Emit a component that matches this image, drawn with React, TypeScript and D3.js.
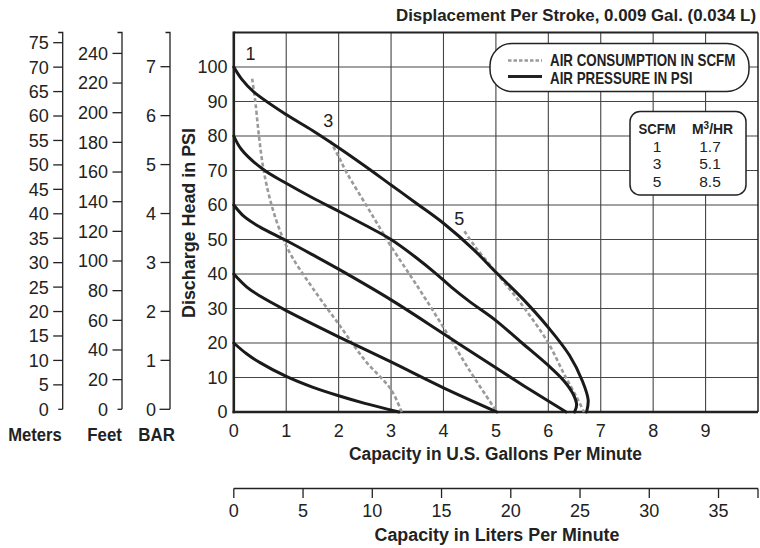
import React from "react";
import * as d3 from "d3";

// ---------- data ----------
const gpmTicks = [0, 1, 2, 3, 4, 5, 6, 7, 8, 9];
const psiTicks = [0, 10, 20, 30, 40, 50, 60, 70, 80, 90, 100];
const literTicks = [0, 5, 10, 15, 20, 25, 30, 35];
const meterTicks = [0, 5, 10, 15, 20, 25, 30, 35, 40, 45, 50, 55, 60, 65, 70, 75];
const feetTicks = [0, 20, 40, 60, 80, 100, 120, 140, 160, 180, 200, 220, 240];
const barTicks = [0, 1, 2, 3, 4, 5, 6, 7];

// air pressure curves [gpm, psi]
const psi100: [number, number][] = [[0, 100], [0.15, 96.5], [0.38, 92.8], [1, 86.2], [1.5, 81.6], [2, 76.6], [2.5, 71.3], [3, 65.8], [3.5, 60.3], [4, 54.7], [4.58, 47], [5, 40.5], [5.5, 33], [6, 24.5], [6.4, 16.5], [6.65, 9], [6.76, 3.5], [6.73, 0]];
const psi80: [number, number][] = [[0, 80], [0.15, 76], [0.57, 70.2], [1, 66.3], [1.5, 62.1], [2, 58.2], [2.5, 54.2], [3, 50], [3.5, 44.5], [3.85, 40.2], [4.15, 36.2], [4.5, 32], [5, 26.5], [5.5, 20], [6, 13.5], [6.3, 9], [6.48, 5], [6.54, 2], [6.5, 0]];
const psi60: [number, number][] = [[0, 60], [0.2, 56.6], [0.5, 53.6], [1, 49.7], [1.5, 45.6], [2, 41.4], [3, 32.5], [4, 22.7], [5, 12.8], [5.7, 6], [6.34, 0]];
const psi40: [number, number][] = [[0, 40], [0.25, 36.2], [0.5, 33.6], [1, 29.4], [2, 21.8], [3, 14.5], [4, 7], [5.02, 0]];
const psi20: [number, number][] = [[0, 20], [0.25, 16.8], [0.5, 14.3], [1, 10.3], [1.5, 7.2], [2, 4.7], [2.5, 2.5], [3.15, 0]];
const pressureCurves = [psi100, psi80, psi60, psi40, psi20];

// air consumption curves [gpm, psi]
const scfm1: [number, number][] = [[0.35, 96.6], [0.41, 90], [0.48, 80], [0.57, 70], [0.72, 60], [0.92, 51], [1.11, 45], [1.5, 36], [2, 25.5], [2.5, 15], [3, 6.5], [3.2, 0]];
const scfm3: [number, number][] = [[1.84, 78.6], [2, 74], [2.16, 69.2], [2.54, 59.6], [2.8, 53], [3, 48], [3.5, 36.5], [4, 24.5], [4.5, 12], [5.02, 0]];
const scfm5: [number, number][] = [[4.4, 52.4], [4.6, 48], [5, 40.5], [5.5, 31], [6, 20], [6.3, 11], [6.55, 4], [6.68, 0]];
const consumptionCurves = [scfm1, scfm3, scfm5];
const consumptionLabels = [{ t: "1", at: [0.32, 104] }, { t: "3", at: [1.8, 84.6] }, { t: "5", at: [4.3, 56] }];

const tableRows = [["1", "1.7"], ["3", "5.1"], ["5", "8.5"]];

const FONT = "'Liberation Sans', Arial, Helvetica, sans-serif";
const TICK_FS = 18;

export default function App() {
  const x = d3.scaleLinear().domain([0, 10]).range([233.8, 758]);
  const y = d3.scaleLinear().domain([0, 110]).range([412, 32.5]);
  const xl = d3.scaleLinear().domain([0, 10 * 3.785]).range([233.8, 758]);
  const yM = d3.scaleLinear().domain([0, 75]).range([409.3, 42.7]);
  const yF = d3.scaleLinear().domain([0, 240]).range([409.3, 53.4]);
  const yB = d3.scaleLinear().domain([0, 7]).range([409.3, 66.7]);

  const line = d3
    .line<[number, number]>()
    .x((d) => x(d[0]))
    .y((d) => y(d[1]))
    .curve(d3.curveCatmullRom.alpha(0.5));

  const sideAxis = (scale: d3.ScaleLinear<number, number>, ticks: number[], ax: number, zeroLen: number) => (
    <g>
      <path d={`M${ax - 4.5},32.5 H${ax} V${scale(0)}`} fill="none" stroke="#222" strokeWidth={1.3} />
      {ticks.map((t) => (
        <g key={t}>
          <line x1={ax - (t === 0 ? zeroLen : 9.5)} x2={ax} y1={scale(t)} y2={scale(t)} stroke="#222" strokeWidth={1.3} />
          <text x={ax - 14} y={scale(t) + 6.4} textAnchor="end" fontSize={TICK_FS} fill="#222">{t}</text>
        </g>
      ))}
    </g>
  );

  return (
    <svg width={760} height={548} style={{ position: "absolute", left: 0, top: 0, fontFamily: FONT }}>
      <rect width={760} height={548} fill="#fff" />
      {/* title */}
      <text x={396} y={20.5} fontSize={17} fontWeight="bold" fill="#222" textLength={360} lengthAdjust="spacingAndGlyphs">
        Displacement Per Stroke, 0.009 Gal. (0.034 L)
      </text>

      {/* grid */}
      {d3.range(1, 10).map((g) => (
        <line key={"v" + g} x1={x(g)} x2={x(g)} y1={y(110)} y2={y(0)} stroke="#444" strokeWidth={1.1} />
      ))}
      {d3.range(10, 110, 10).map((p) => (
        <line key={"h" + p} x1={x(0)} x2={x(10)} y1={y(p)} y2={y(p)} stroke="#444" strokeWidth={1.1} />
      ))}
      {/* frame */}
      <line x1={x(0)} x2={x(10)} y1={y(110)} y2={y(110)} stroke="#222" strokeWidth={2} />
      <line x1={x(10)} x2={x(10)} y1={y(110)} y2={y(0)} stroke="#222" strokeWidth={1.5} />
      <line x1={x(0)} x2={x(0)} y1={y(110) - 1} y2={y(0) + 1.2} stroke="#222" strokeWidth={2.6} />
      <line x1={x(0) - 1.3} x2={x(10)} y1={y(0)} y2={y(0)} stroke="#222" strokeWidth={2.6} />

      {/* legend */}
      <rect x={490} y={43.5} width={259} height={48} rx={22} fill="#fff" stroke="#222" strokeWidth={1.5} />
      <line x1={508} x2={542} y1={60.5} y2={60.5} stroke="#9a9a9a" strokeWidth={2.5} strokeDasharray="3.5,2" />
      <line x1={508} x2={542} y1={76.5} y2={76.5} stroke="#222" strokeWidth={3} />
      <text transform="translate(550,65.5) scale(0.835,1)" fontSize={16} fontWeight="bold" fill="#222">AIR CONSUMPTION IN SCFM</text>
      <text transform="translate(550,84) scale(0.835,1)" fontSize={16} fontWeight="bold" fill="#222">AIR PRESSURE IN PSI</text>

      {/* table */}
      <rect x={630} y={111.5} width={116} height={83.5} rx={10} fill="#fff" stroke="#222" strokeWidth={1.5} />
      <text transform="translate(638.5,133.5) scale(0.85,1)" fontSize={15.5} fontWeight="bold" fill="#222">SCFM</text>
      <text transform="translate(692,133.5) scale(0.9,1)" fontSize={15.5} fontWeight="bold" fill="#222">
        <tspan>M</tspan>
        <tspan dy={-5} fontSize={11}>3</tspan>
        <tspan dy={5}>/HR</tspan>
      </text>
      {tableRows.map((r, i) => (
        <g key={r[0]}>
          <text x={657} y={151.5 + i * 17.5} fontSize={15.5} textAnchor="middle" fill="#222">{r[0]}</text>
          <text x={710} y={151.5 + i * 17.5} fontSize={15.5} textAnchor="middle" fill="#222">{r[1]}</text>
        </g>
      ))}

      {/* curves */}
      {consumptionCurves.map((c, i) => (
        <path key={"c" + i} d={line(c) || ""} fill="none" stroke="#9a9a9a" strokeWidth={2.6} strokeDasharray="4,2.5" />
      ))}
      {pressureCurves.map((c, i) => (
        <path key={"p" + i} d={line(c) || ""} fill="none" stroke="#1a1a1a" strokeWidth={3} strokeLinecap="round" />
      ))}
      {consumptionLabels.map((l) => (
        <text key={l.t} x={x(l.at[0])} y={y(l.at[1]) + 6.4} fontSize={TICK_FS} textAnchor="middle" fill="#222">{l.t}</text>
      ))}

      {/* PSI axis labels */}
      {psiTicks.map((p) => (
        <text key={"yt" + p} x={227.5} y={y(p) + 6.4} textAnchor="end" fontSize={TICK_FS} fill="#222">{p}</text>
      ))}
      <text transform="translate(194.5,223) rotate(-90)" textAnchor="middle" fontSize={17.5} fontWeight="bold" fill="#222" textLength={190} lengthAdjust="spacingAndGlyphs">
        Discharge Head in PSI
      </text>

      {/* gallons axis labels */}
      {gpmTicks.map((g) => (
        <text key={"xt" + g} x={x(g)} y={436.5} textAnchor="middle" fontSize={TICK_FS} fill="#222">{g}</text>
      ))}
      <text x={495.5} y={459.5} textAnchor="middle" fontSize={17.5} fontWeight="bold" fill="#222" textLength={293} lengthAdjust="spacingAndGlyphs">
        Capacity in U.S. Gallons Per Minute
      </text>

      {/* liters axis */}
      <line x1={xl(0)} x2={758} y1={488.5} y2={488.5} stroke="#222" strokeWidth={1.3} />
      {literTicks.map((l) => (
        <g key={"lt" + l}>
          <line x1={xl(l)} x2={xl(l)} y1={488.5} y2={498} stroke="#222" strokeWidth={1.3} />
          <text x={xl(l)} y={516.5} textAnchor="middle" fontSize={TICK_FS} fill="#222">{l}</text>
        </g>
      ))}
      <line x1={758} x2={758} y1={488.5} y2={498} stroke="#222" strokeWidth={1.3} />
      <text x={497} y={540.5} textAnchor="middle" fontSize={17.5} fontWeight="bold" fill="#222" textLength={245} lengthAdjust="spacingAndGlyphs">
        Capacity in Liters Per Minute
      </text>

      {/* side unit axes */}
      {sideAxis(yM, meterTicks, 62.7, 4.5)}
      {sideAxis(yF, feetTicks, 122, 4.5)}
      {sideAxis(yB, barTicks, 170, 10.5)}
      <text x={8.3} y={440.5} fontSize={17.5} fontWeight="bold" fill="#222" textLength={53.5} lengthAdjust="spacingAndGlyphs">Meters</text>
      <text x={87.3} y={440.5} fontSize={17.5} fontWeight="bold" fill="#222" textLength={34.5} lengthAdjust="spacingAndGlyphs">Feet</text>
      <text x={138.3} y={440.5} fontSize={17.5} fontWeight="bold" fill="#222" textLength={36.5} lengthAdjust="spacingAndGlyphs">BAR</text>
    </svg>
  );
}
